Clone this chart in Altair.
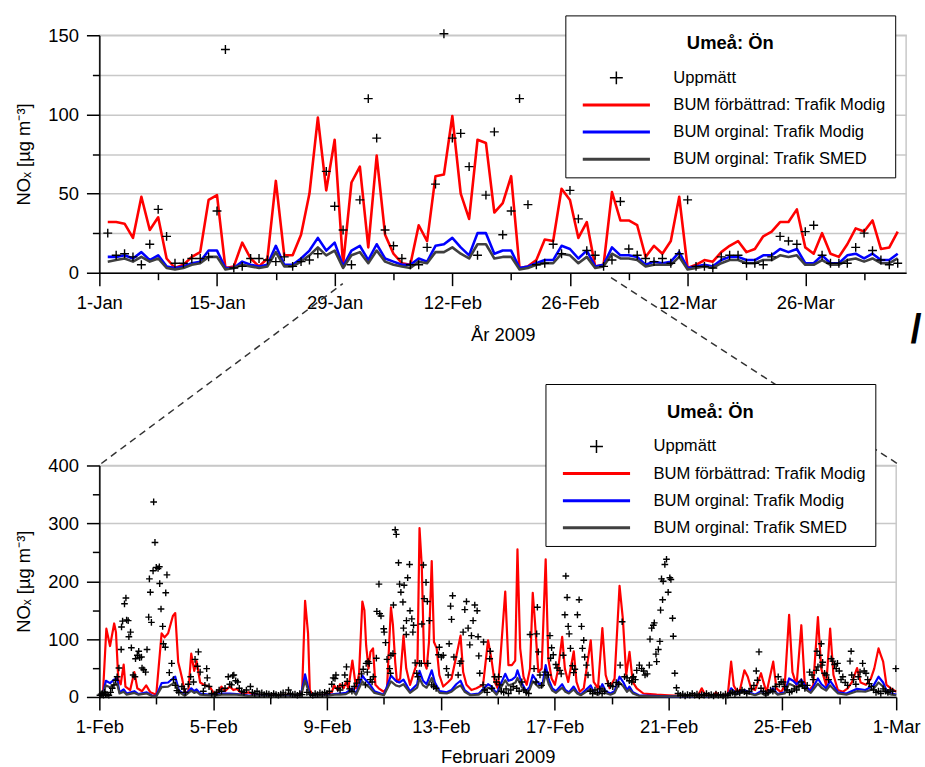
import altair as alt
import pandas as pd

FONT = "Liberation Sans"
LEGEND_TITLE = ["", "Umeå: Ön"]   # leading empty line gives the title room above it
Y_TITLE = "NOₓ [µg m⁻³]"

SERIES = [
    "Uppmätt",
    "BUM förbättrad: Trafik Modig",
    "BUM orginal: Trafik Modig",
    "BUM orginal: Trafik SMED",
]
SERIES_COLORS = ["#000000", "#ff0000", "#0000ff", "#404040"]
CROSS = "M-1,0H1M0,-1V1"          # thin plus used for the measured values
LEGEND_LINE = "M-5.2,0H5.2"        # long stroke used as line symbol in the legend

# ---------------- daily means 2009 (day number counted from 1 Jan) ----------------
day_no = list(range(1, 96))
daily_measured = [25, 11, 12, 10, 5, 18, 40, 23, 6, 6, 9, 9, 10, 39, 141, 3, 4, 9, 9, 8,
                  7, 10, 4, 7, 8, 12, 64, 42, 27, 5, 46, 110, 85, 27, 17, 9, 5, 5, 16, 56,
                  151, 85, 88, 67, 11, 49, 89, 24, 39, 110, 43, 5, 6, 18, 12, 52, 34, 14, 11, 4,
                  8, 45, 15, 11, 9, 7, 9, 6, 12, 46, 4, 4, 3, 10, 11, 11, 6, 6, 5, 10,
                  23, 20, 18, 26, 30, 11, 6, 6, 6, 16, 25, 14, 8, 5, 6]
daily_improved = [32, 32, 31, 22, 48, 27, 35, 9, 3, 5, 10, 13, 46, 49, 3, 4, 19, 9, 4, 9,
                  58, 11, 11, 24, 50, 98, 52, 84, 5, 57, 67, 16, 74, 24, 12, 6, 5, 30, 20, 61,
                  62, 99, 50, 34, 84, 82, 38, 44, 61, 3, 4, 8, 21, 20, 53, 46, 22, 32, 4, 5,
                  51, 33, 33, 30, 10, 17, 12, 20, 48, 3, 5, 8, 7, 13, 17, 20, 13, 15, 23, 26,
                  32, 32, 40, 16, 12, 25, 12, 10, 18, 28, 26, 33, 15, 16, 26]
daily_orig_modig = [10, 10, 11, 9, 13, 8, 11, 4, 3, 4, 6, 7, 14, 14, 3, 3, 7, 5, 4, 5,
                    17, 5, 5, 9, 14, 22, 14, 19, 4, 14, 17, 8, 18, 9, 7, 5, 5, 9, 7, 17,
                    18, 22, 16, 11, 25, 25, 12, 14, 14, 3, 4, 6, 8, 8, 17, 15, 9, 14, 4, 5,
                    16, 11, 11, 10, 5, 7, 6, 7, 13, 3, 4, 5, 4, 8, 10, 10, 8, 8, 11, 11,
                    15, 13, 15, 6, 6, 11, 6, 6, 11, 12, 9, 12, 8, 8, 12]
daily_orig_smed = [7, 8, 9, 7, 10, 7, 9, 3, 2, 3, 5, 6, 10, 10, 2, 3, 5, 4, 3, 4,
                   13, 4, 4, 7, 11, 16, 11, 14, 3, 11, 13, 6, 14, 7, 5, 4, 3, 7, 6, 13,
                   13, 16, 12, 9, 18, 18, 9, 10, 10, 2, 3, 5, 6, 6, 12, 11, 6, 10, 3, 4,
                   12, 9, 9, 8, 4, 5, 5, 5, 10, 2, 3, 4, 3, 6, 8, 8, 6, 6, 8, 8,
                   11, 10, 11, 5, 5, 8, 5, 5, 8, 9, 7, 9, 6, 6, 9]

top_ticks = list(range(0, 96, 7))
top_tick_labels = ["1-Jan", "15-Jan", "29-Jan", "12-Feb", "26-Feb", "12-Mar", "26-Mar"]

# ---------------- hourly values February 2009 (hour counted from 1 Feb 00:00) ----------------
hourly_improved = [
    (0, 3), (3, 5), (5.9, 118), (9, 88), (12.5, 127), (14, 112), (16, 30), (18, 22), (20.5, 56),
    (22, 18), (26, 12), (29.5, 43), (32, 15), (36, 10), (39.5, 20), (43, 8), (48, 4), (52.5, 110),
    (55, 103), (58, 110), (62, 140), (64, 145), (66.5, 60), (68, 48), (70, 30), (72, 8), (75, 8),
    (77.5, 75), (80, 45), (82, 62), (85, 25), (89, 20), (93, 18), (97, 5), (100, 8), (103, 18),
    (106, 10), (110, 18), (113, 12), (116, 14), (120, 6), (126, 8), (130, 4), (140, 3), (150, 3),
    (160, 4), (168, 3), (171, 10), (173.5, 166), (176, 110), (177.5, 12), (180, 4), (190, 3),
    (196, 8), (198, 20), (201, 12), (203, 22), (206, 15), (208, 26), (210, 15), (213.4, 63),
    (216.5, 15), (219, 40), (221.8, 165), (223.5, 150), (225, 89), (227, 49), (228.6, 78),
    (230.8, 84), (232.8, 21), (235.6, 15), (239.8, 9), (242.6, 15), (245.9, 155), (247.6, 124),
    (249.5, 60), (251, 26), (253.7, 32), (256.5, 106), (258.8, 49), (262, 21), (266.3, 49),
    (268.3, 61), (270, 292), (271.9, 227), (273.9, 61), (276, 49), (278, 95), (280.3, 235),
    (282.2, 95), (284.5, 84), (286.7, 38), (290, 18), (294.2, 26), (297, 32), (301.2, 72),
    (304.6, 106), (306.8, 43), (309.6, 21), (313.8, 12), (318, 15), (323.6, 21), (327.8, 98),
    (330.6, 66), (333.4, 26), (336, 15), (338, 61), (342.3, 182), (345, 55), (347.9, 55),
    (350.7, 63), (352.6, 255), (354.9, 84), (357.7, 35), (360.4, 21), (363.2, 49), (365.5, 180),
    (367.4, 129), (370.2, 43), (373, 49), (376.4, 238), (378.6, 66), (381.4, 32), (384.2, 21),
    (387, 49), (390.3, 104), (392.6, 49), (395.4, 26), (400.1, 79), (402.4, 26), (405.2, 9),
    (408.5, 15), (414.4, 98), (416.9, 26), (420.5, 15), (424.2, 119), (427, 38), (430.3, 15),
    (434.5, 32), (438.7, 192), (441.5, 135), (444.3, 38), (447.1, 78), (449.8, 26), (453.2, 15),
    (458.8, 6), (464.4, 5), (470, 4), (480, 3), (490, 2), (500, 2), (505, 3), (508, 15), (511, 3),
    (518, 3), (520, 8), (522, 3), (530, 4), (532.8, 61), (535, 20), (537, 12), (540, 10), (544, 46),
    (546.8, 35), (549.6, 15), (553, 12), (558, 41), (560, 26), (562.7, 8), (568.3, 61), (571, 15),
    (575, 8), (578, 20), (581.7, 142), (584.5, 43), (588, 20), (592, 124), (594.8, 26), (598, 10),
    (602, 20), (606, 138), (608.8, 49), (613, 20), (616.3, 118), (619.1, 38), (622.8, 12), (627, 9),
    (631.1, 15), (634.8, 26), (639, 50), (642, 25), (646.5, 21), (650.7, 32), (653.5, 49),
    (657.1, 84), (659.1, 72), (661, 61), (663.8, 21), (667.5, 15), (672, 9),
]
hourly_orig_modig = [
    (0, 3), (3, 4), (5.5, 28), (9, 24), (12.5, 30), (15, 32), (17, 8), (20.5, 13), (23, 6),
    (29.5, 10), (33, 5), (40, 8), (45, 2), (48, 2), (52.5, 24), (58, 25), (62, 32), (64, 35),
    (67, 12), (72, 3), (77.5, 15), (80, 10), (82, 13), (85, 6), (97, 3), (103, 6), (110, 6),
    (116, 5), (125, 3), (140, 2), (160, 2), (170, 3), (173.5, 39), (177.5, 4), (190, 2), (198, 5),
    (203, 6), (208, 7), (213.4, 15), (216.5, 5), (221.8, 37), (223.5, 32), (228, 22), (232, 10),
    (240, 4), (245.9, 37), (250, 28), (253, 25), (256.5, 30), (262, 10), (268, 22), (270, 45),
    (273, 28), (276, 22), (280.3, 46), (283, 25), (287, 10), (293, 8), (297, 12), (301, 22),
    (304.6, 28), (308, 12), (313, 4), (320, 6), (327.8, 22), (331, 18), (335, 6), (338, 20),
    (342.3, 40), (345, 28), (348, 30), (351, 35), (352.6, 46), (356, 25), (360, 10), (363, 18),
    (365.5, 38), (368, 30), (371, 22), (374, 25), (376.4, 55), (379, 30), (382, 15), (385, 10),
    (390.3, 22), (393, 12), (396, 8), (400, 18), (403, 8), (406, 4), (414.4, 20), (417, 8),
    (421, 5), (424.2, 22), (427, 10), (431, 6), (434.5, 10), (438.7, 35), (442, 25), (445, 12),
    (447, 18), (450, 8), (455, 3), (465, 2), (480, 1), (500, 1), (508, 4), (512, 1), (520, 2),
    (530, 2), (532.8, 15), (537, 5), (544, 12), (548, 8), (553, 4), (558, 10), (562, 3), (568, 15),
    (572, 5), (578, 8), (581.7, 32), (585, 28), (588, 22), (592, 30), (595, 20), (600, 10),
    (606, 32), (609, 22), (613, 15), (616.3, 28), (619, 20), (623, 8), (630, 6), (639, 14),
    (646, 12), (653, 20), (657.1, 35), (661, 25), (664, 10), (668, 6), (672, 4),
]
hourly_orig_smed = [
    (0, 2), (3, 3), (5.5, 20), (9, 17), (12.5, 21), (15, 23), (17, 6), (20.5, 9), (23, 4),
    (29.5, 7), (33, 4), (40, 6), (45, 1), (48, 1), (52.5, 17), (58, 18), (62, 23), (64, 25),
    (67, 9), (72, 2), (77.5, 11), (80, 7), (82, 9), (85, 4), (97, 2), (103, 4), (110, 4),
    (116, 4), (125, 2), (140, 1), (160, 1), (170, 2), (173.5, 28), (177.5, 3), (190, 1), (198, 4),
    (203, 4), (208, 5), (213.4, 11), (216.5, 4), (221.8, 27), (223.5, 23), (228, 16), (232, 7),
    (240, 3), (245.9, 27), (250, 20), (253, 18), (256.5, 22), (262, 7), (268, 16), (270, 32),
    (273, 20), (276, 16), (280.3, 33), (283, 18), (287, 7), (293, 6), (297, 9), (301, 16),
    (304.6, 20), (308, 9), (313, 3), (320, 4), (327.8, 16), (331, 13), (335, 4), (338, 14),
    (342.3, 29), (345, 20), (348, 22), (351, 25), (352.6, 33), (356, 18), (360, 7), (363, 13),
    (365.5, 27), (368, 22), (371, 16), (374, 18), (376.4, 40), (379, 22), (382, 11), (385, 7),
    (390.3, 16), (393, 9), (396, 6), (400, 13), (403, 6), (406, 3), (414.4, 14), (417, 6),
    (421, 4), (424.2, 16), (427, 7), (431, 4), (434.5, 7), (438.7, 25), (442, 18), (445, 9),
    (447, 13), (450, 6), (455, 2), (465, 1), (480, 1), (500, 1), (508, 3), (512, 1), (520, 1),
    (530, 1), (532.8, 11), (537, 4), (544, 9), (548, 6), (553, 3), (558, 7), (562, 2), (568, 11),
    (572, 4), (578, 6), (581.7, 23), (585, 20), (588, 16), (592, 22), (595, 14), (600, 7),
    (606, 23), (609, 16), (613, 11), (616.3, 20), (619, 14), (623, 6), (630, 4), (639, 10),
    (646, 9), (653, 14), (657.1, 25), (661, 18), (664, 7), (668, 4), (672, 3),
]
hourly_measured = [
    (0.5, 3), (1.5, 5), (2.5, 6), (3.5, 3), (4.5, 8), (5.3, 5), (6.5, 4), (8, 3), (9.5, 8),
    (10.9, 15), (12.3, 21), (13.7, 29), (15, 35), (16.5, 50), (18.4, 82), (18.7, 121), (19.6, 131),
    (21.2, 161), (22.4, 171), (23, 133), (24.3, 132), (24.9, 104), (26.3, 112), (27, 85), (28.5, 38),
    (30, 35), (30.5, 66), (32, 72), (33.2, 79), (34, 68), (35.5, 69), (36, 50), (37.4, 47), (39, 43),
    (40.2, 82), (41.6, 138), (42.2, 204), (43, 181), (43.9, 129), (45.3, 218), (45.8, 337),
    (46.9, 267), (48, 224), (49.5, 222), (50.6, 225), (50.9, 196), (52, 152), (53.4, 122), (54, 92),
    (55.6, 86), (56, 180), (57, 211), (59, 42), (61, 58), (62.5, 30), (64, 20), (65.4, 11), (67, 8),
    (69.6, 18), (71.5, 14), (72.4, 8), (75, 22), (77, 35), (79.4, 26), (80.7, 65), (82.7, 53),
    (83.5, 78), (85, 43), (87.7, 10), (89, 20), (90.5, 49), (91, 33), (92.5, 18), (94.7, 6),
    (97.5, 5), (99, 8), (101, 12), (103, 10), (106, 15), (108.7, 35), (110, 22), (111.5, 21),
    (112.5, 37), (113.4, 38), (115, 28), (116.7, 26), (118, 15), (120, 10), (122, 8), (124, 12),
    (127.4, 18), (129, 8), (131, 6), (133, 10), (135, 5), (137, 7), (139, 4), (141, 6), (143, 5),
    (145, 3), (147, 6), (149, 4), (151, 3), (153, 5), (155, 7), (157, 4), (159.5, 12), (161, 6),
    (163, 4), (165, 5), (167, 3), (169, 6), (171, 4), (175, 8), (178, 5), (180, 3), (182, 6),
    (184, 4), (186, 7), (188, 5), (190, 8), (192, 6), (194, 10), (196, 22), (197.2, 33),
    (198.7, 32), (199.5, 38), (201, 15), (203, 12), (205, 20), (207, 38), (208.4, 52), (209, 27),
    (211, 14), (213, 10), (215, 18), (217, 24), (219, 30), (221, 40), (222.5, 48), (224.4, 21),
    (225, 58), (226, 43), (226.6, 61), (227.5, 58), (228.5, 30), (230, 26), (231, 35), (233.6, 67),
    (234, 148), (235.8, 195), (236.4, 144), (237.5, 140), (239.8, 118), (240.2, 112), (241.4, 94),
    (242.6, 65), (244.8, 49), (245.5, 41), (245.9, 72), (247.6, 75), (248, 159), (249.5, 289),
    (250.4, 281), (252.3, 232), (253.2, 195), (254.3, 181), (256, 164), (256.5, 119), (257, 193),
    (258.8, 108), (259, 132), (260, 206), (261.6, 229), (262, 149), (263.5, 135), (264.4, 112),
    (265, 124), (266.3, 59), (267.7, 41), (268.5, 35), (270, 58), (271.5, 58), (272, 126),
    (273.3, 228), (273.9, 170), (275.5, 198), (276.6, 165), (277, 58), (278.3, 132), (280.3, 21),
    (282, 18), (284, 15), (286, 73), (286.7, 86), (288.4, 69), (290, 72), (292.8, 49), (294.2, 38),
    (295, 92), (296.2, 157), (297, 134), (297.9, 175), (299, 69), (302.6, 38), (304, 58), (305, 62),
    (306.8, 112), (308.2, 151), (309.6, 165), (311, 119), (312.4, 90), (313.8, 106), (315.2, 132),
    (316.6, 159), (318.6, 149), (319.4, 104), (320, 71), (320.8, 41), (323.6, 21), (324, 95),
    (325, 12), (327, 8), (329.2, 66), (329.7, 79), (331, 15), (333.4, 35), (334.8, 26), (336.7, 35),
    (337.6, 21), (339, 10), (341, 8), (343, 14), (345, 6), (347, 12), (349, 18), (352, 15),
    (354, 10), (356.3, 26), (358, 12), (360, 8), (362, 6), (363.2, 108), (366.6, 49), (368.3, 26),
    (368.8, 109), (369.4, 155), (370.2, 78), (371.6, 38), (373, 20), (375.8, 43), (378.6, 38),
    (380, 106), (380.6, 67), (381.4, 85), (382.8, 73), (385, 56), (386, 50), (388.4, 46),
    (389.5, 40), (391.2, 72), (392.6, 142), (393.4, 209), (394.5, 172), (395.4, 122), (396.2, 109),
    (397.3, 84), (399, 54), (400, 42), (401, 48), (403.2, 142), (404.6, 168), (406.6, 122),
    (407.4, 84), (408.5, 98), (409.3, 69), (410.7, 55), (412.1, 38), (414, 10), (416, 6), (418, 12),
    (420, 8), (422, 14), (424, 6), (426, 10), (429, 23), (431, 20), (433, 18), (435.9, 25),
    (438, 22), (439.2, 55), (440.9, 130), (442.9, 35), (445, 33), (447, 28), (449, 26),
    (449.9, 33), (450.4, 35), (452, 30), (453.2, 46), (455.4, 55), (457.4, 49), (459, 45),
    (460.2, 38), (462, 40), (463.8, 55), (464.4, 100), (465.8, 119), (467.2, 124), (468, 128),
    (469.4, 74), (470, 61), (471.4, 82), (472.7, 96), (473.3, 150), (474.1, 204), (475, 168),
    (475.5, 200), (476.9, 229), (478.3, 238), (479.7, 181), (481.1, 206), (482, 203), (483.4, 136),
    (484, 105), (485.3, 41), (486.7, 16), (488, 6), (490, 3), (492, 5), (494, 2), (496, 4),
    (498, 3), (500, 6), (502, 3), (504, 5), (506, 2), (508, 4), (510, 3), (512, 6), (514, 3),
    (516, 4), (518, 2), (520, 5), (522, 3), (524, 4), (526, 2), (528, 5), (530, 3), (532, 6),
    (534, 8), (536, 5), (538, 10), (540, 7), (542, 12), (544, 9), (546, 6), (548, 10), (550, 14),
    (552, 20), (554, 45), (555, 29), (556.3, 78), (558, 15), (560, 10), (562, 6), (564, 8),
    (566, 12), (568, 10), (570, 18), (572.5, 35), (573.5, 22), (575, 26), (576.7, 26), (578, 18),
    (580, 12), (582, 8), (584, 10), (586, 14), (588, 12), (590, 18), (592, 26), (593, 20),
    (595, 15), (597, 20), (599, 43), (601, 38), (602, 30), (604.6, 46), (605.2, 79), (606, 52),
    (607.4, 72), (608.8, 92), (609.5, 55), (610, 60), (611.6, 41), (613, 38), (615, 30),
    (617.2, 66), (618.5, 62), (620, 56), (621.4, 49), (622.5, 58), (624, 45), (625.5, 30),
    (627, 35), (629, 25), (631, 20), (633.1, 62), (634, 79), (634.5, 38), (636, 30), (638, 22),
    (640, 35), (641.5, 43), (643.7, 58), (645, 45), (646.5, 41), (648, 30), (649.3, 23), (651, 18),
    (653, 12), (655, 8), (657, 10), (659, 6), (661, 14), (663, 10), (665, 8), (667, 12), (669, 10),
    (671.7, 49),
]

bottom_ticks = list(range(0, 673, 48))
bottom_tick_labels = ["1-Feb", "5-Feb", "9-Feb", "13-Feb", "17-Feb", "21-Feb", "25-Feb", "1-Mar"]


def js_list(items):
    return "[" + ",".join(f"'{s}'" for s in items) + "]"


def two_level(test, major, minor):
    return {"condition": {"test": test, "value": major}, "value": minor}


def x_axis(ticks, labels, every, title, title_pad):
    return alt.Axis(
        values=ticks,
        labelExpr=f"datum.value % {every} === 0 ? {js_list(labels)}[datum.value / {every}] : ''",
        tickSize=two_level(f"datum.value % {every} === 0", 13, 7),
        grid=False, title=title, labelFlush=False, labelOverlap=False, titlePadding=title_pad,
    )


def y_axis(ticks, every, grid_every):
    return alt.Axis(
        values=ticks,
        labelExpr=f"datum.value % {every} === 0 ? datum.label : ''",
        tickSize=two_level(f"datum.value % {every} === 0", 13, 7),
        grid=True,
        gridOpacity=two_level(f"datum.value % {grid_every} === 0", 1, 0),
        title=Y_TITLE, labelFlush=False, labelOverlap=False, titlePadding=14,
    )


def legend(x, y):
    return alt.Legend(
        orient="none", legendX=x, legendY=y, title=LEGEND_TITLE,
        titleAnchor="middle", titleFont=FONT, titleFontSize=18.5, titleFontWeight="bold",
        titleColor="black", titlePadding=17, titleLineHeight=10,
        labelFont=FONT, labelFontSize=16.7, labelColor="black", labelLimit=500,
        symbolSize=169, symbolOffset=34, labelOffset=49, symbolOpacity=1,
        rowPadding=9.3, padding=9, strokeColor="black", fillColor="white",
    )


def legend_layer(x, y):
    lg = legend(x, y)
    frame = pd.DataFrame({"serie": SERIES})
    return alt.Chart(frame).transform_filter("false").mark_point(filled=False, opacity=1).encode(
        color=alt.Color("serie:N", scale=alt.Scale(domain=SERIES, range=SERIES_COLORS), legend=lg),
        shape=alt.Shape("serie:N", scale=alt.Scale(domain=SERIES, range=[CROSS, LEGEND_LINE, LEGEND_LINE, LEGEND_LINE]), legend=lg),
        strokeWidth=alt.StrokeWidth("serie:N", scale=alt.Scale(type="ordinal", domain=SERIES, range=[1.5, 3, 3, 3]), legend=lg),
    )


def pairs_frame(pairs, xname):
    return pd.DataFrame({xname: [p[0] for p in pairs], "nox": [p[1] for p in pairs]})


def panel(frames, x_enc, y_enc, line_width, cross_size):
    improved, modig, smed, measured = frames
    layers = []
    for frame, col in ((improved, SERIES_COLORS[1]), (modig, SERIES_COLORS[2]), (smed, SERIES_COLORS[3])):
        layers.append(
            alt.Chart(frame).mark_line(color=col, strokeWidth=line_width, strokeJoin="round")
            .encode(x=x_enc, y=y_enc)
        )
    layers.append(
        alt.Chart(measured).mark_point(shape=CROSS, filled=False, size=cross_size,
                                       strokeWidth=1.4, color="black", opacity=1)
        .encode(x=x_enc, y=y_enc)
    )
    return layers


# ---------------- upper panel: daily means ----------------
top_frames = [
    pd.DataFrame({"dag": day_no, "nox": daily_improved}),
    pd.DataFrame({"dag": day_no, "nox": daily_orig_modig}),
    pd.DataFrame({"dag": day_no, "nox": daily_orig_smed}),
    pd.DataFrame({"dag": day_no, "nox": daily_measured}),
]
x_top = alt.X("dag:Q", scale=alt.Scale(domain=[0, 96], nice=False, zero=False),
              axis=x_axis(top_ticks, top_tick_labels, 14, "År 2009", 14))
y_top = alt.Y("nox:Q", scale=alt.Scale(domain=[0, 150], nice=False),
              axis=y_axis(list(range(0, 151, 25)), 50, 25))

slash = alt.Chart(pd.DataFrame({"t": ["/"]})).mark_text(
    font=FONT, fontSize=40, fontWeight="bold", color="black", align="center", baseline="middle"
).encode(text="t:N", x=alt.value(822), y=alt.value(298))

top = alt.layer(
    *panel(top_frames, x_top, y_top, 2.6, 80),
    legend_layer(469, -20),
    slash,
).properties(width=812, height=239)

# ---------------- lower panel: hourly values ----------------
bottom_frames = [
    pairs_frame(hourly_improved, "timme"),
    pairs_frame(hourly_orig_modig, "timme"),
    pairs_frame(hourly_orig_smed, "timme"),
    pairs_frame(hourly_measured, "timme"),
]
x_bot = alt.X("timme:Q", scale=alt.Scale(domain=[0, 672], nice=False, zero=False),
              axis=x_axis(bottom_ticks, bottom_tick_labels, 96, "Februari 2009", 11))
y_bot = alt.Y("nox:Q", scale=alt.Scale(domain=[0, 400], nice=False),
              axis=y_axis(list(range(0, 401, 50)), 100, 100))

one = pd.DataFrame({"k": [0]})
zoom_left = alt.Chart(one).mark_rule(color="#333333", strokeWidth=1.5, strokeDash=[7, 5]).encode(
    x=alt.value(2), y=alt.value(-2), x2=alt.value(245), y2=alt.value(-183))
zoom_right = alt.Chart(one).mark_rule(color="#333333", strokeWidth=1.5, strokeDash=[7, 5]).encode(
    x=alt.value(515), y=alt.value(-189), x2=alt.value(803), y2=alt.value(-2))

bottom = alt.layer(
    zoom_left, zoom_right,
    *panel(bottom_frames, x_bot, y_bot, 2.2, 45),
    legend_layer(449, -82),
).properties(width=802, height=233)

chart = alt.vconcat(top, bottom, spacing=194, bounds="flush").resolve_scale(
    color="independent", shape="independent", strokeWidth="independent"
).resolve_legend(
    color="independent", shape="independent", strokeWidth="independent"
).properties(
    padding={"left": 14, "top": 11, "right": 2, "bottom": 2}
).configure(font=FONT).configure_view(
    stroke="#c8c8c8", strokeWidth=1.5
).configure_axis(
    domainColor="black", domainWidth=1.5, tickColor="black", tickWidth=1.5,
    labelFont=FONT, labelFontSize=18.5, labelColor="black", labelPadding=8,
    titleFont=FONT, titleFontSize=18.5, titleFontWeight="normal", titleColor="black",
    gridColor="#c8c8c8", gridWidth=1.5,
)

chart.save("out.html", embed_options={"renderer": "svg", "actions": False})
